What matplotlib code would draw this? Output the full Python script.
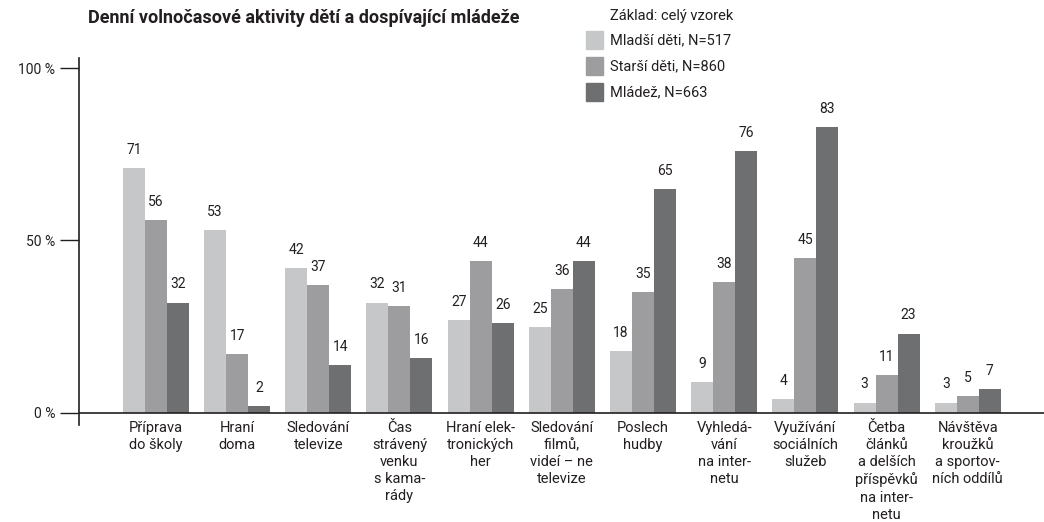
import matplotlib
matplotlib.use("Agg")
import matplotlib.pyplot as plt
import numpy as np
from matplotlib.patches import Rectangle

plt.rcParams['font.family'] = ['Roboto', 'DejaVu Sans']

categories = [
    "Příprava\ndo školy",
    "Hraní\ndoma",
    "Sledování\ntelevize",
    "Čas\nstrávený\nvenku\ns kama-\nrády",
    "Hraní elek-\ntronických\nher",
    "Sledování\nfilmů,\nvideí – ne\ntelevize",
    "Poslech\nhudby",
    "Vyhledá-\nvání\nna inter-\nnetu",
    "Využívání\nsociálních\nslužeb",
    "Četba\nčlánků\na delších\npříspěvků\nna inter-\nnetu",
    "Návštěva\nkroužků\na sportov-\nních oddílů",
]
mladsi = [71, 53, 42, 32, 27, 25, 18, 9, 4, 3, 3]
starsi = [56, 17, 37, 31, 44, 36, 35, 38, 45, 11, 5]
mladez = [32, 2, 14, 16, 26, 44, 65, 76, 83, 23, 7]
series_names = ["Mladší děti, N=517", "Starší děti, N=860", "Mládež, N=663"]
colors = ["#c6c7c9", "#9d9d9f", "#6e6f71"]
yticks = [0, 50, 100]
ytick_labels = ["0 %", "50 %", "100 %"]

W, H = 1044, 522
fig = plt.figure(figsize=(W / 100, H / 100), dpi=100)
ax = fig.add_axes([79 / W, 97 / H, 965 / W, (425 - 58) / H])

x = np.arange(len(categories))
bw = 0.271
txtcol = "#231f20"
for i, (vals, c) in enumerate(zip([mladsi, starsi, mladez], colors)):
    pos = x + (i - 1) * bw
    ax.bar(pos, vals, width=bw, color=c, zorder=2)
    for p, v in zip(pos, vals):
        ax.annotate(str(v), (p, v), xytext=(0, 8), textcoords="offset points",
                    ha="center", va="bottom", fontsize=10, color=txtcol)

ax.set_xlim(-0.948, 10.94)
ax.set_ylim(-3.5, 102.9)
ax.axhline(0, color=txtcol, lw=1.2, zorder=3)
for s in ["top", "right", "bottom"]:
    ax.spines[s].set_visible(False)
ax.spines["left"].set_color(txtcol)
ax.spines["left"].set_linewidth(1.2)
ax.set_yticks(yticks)
ax.set_yticklabels(ytick_labels, fontsize=10, color=txtcol)
ax.tick_params(axis="y", length=14, width=1.0, color=txtcol, pad=3)
ax.set_xticks([])

for xi, lab in zip(x, categories):
    ax.text(xi, 1 - (421 - 58) / (425 - 58), lab, transform=ax.get_xaxis_transform(),
            ha="center", va="top", fontsize=10.5, color=txtcol, linespacing=1.28)

fig.text(88 / W, 1 - 18 / H, "Denní volnočasové aktivity dětí a dospívající mládeže",
         fontsize=13, fontweight="bold", color=txtcol, va="center", ha="left")
fig.text(610 / W, 1 - 16 / H, "Základ: celý vzorek", fontsize=10.5, color=txtcol,
         va="center", ha="left")
for k, (name, c) in enumerate(zip(series_names, colors)):
    yc = 40 + k * 26
    fig.patches.append(Rectangle((586 / W, 1 - (yc + 8.5) / H), 17 / W, 17 / H,
                                 transform=fig.transFigure, color=c, figure=fig))
    fig.text(610 / W, 1 - yc / H, name, fontsize=10.5, color=txtcol, va="center", ha="left")

fig.savefig("out.png", dpi=100)
